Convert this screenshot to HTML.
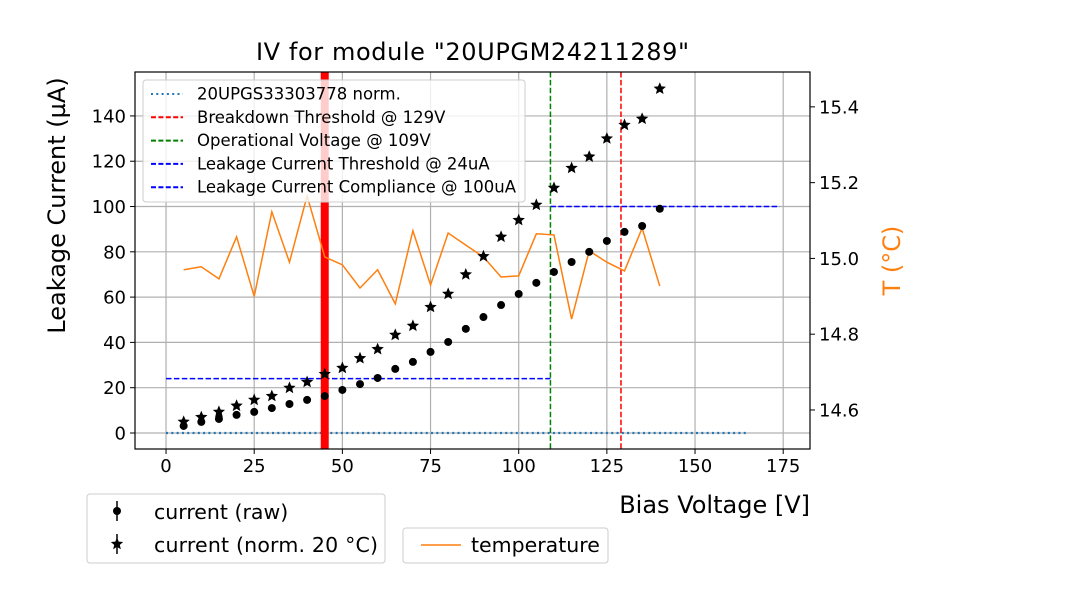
<!DOCTYPE html>
<html><head><meta charset="utf-8"><style>
body{margin:0;background:#fff}
svg{display:block;font-family:"DejaVu Sans","Liberation Sans",sans-serif}
</style></head><body>
<svg id="chart" width="1080" height="600" viewBox="0 0 1080 600"></svg>
<script>
const voltages=[5,10,15,20,25,30,35,40,45,50,55,60,65,70,75,80,85,90,95,100,105,110,115,120,125,130,135,140];
const currentRaw=[3.1,4.9,6.2,8,9.3,11,12.8,14.6,16.3,19,21.6,24.3,28.3,31.4,35.8,40.2,46,51.2,56.5,61.4,66.3,71.1,75.5,80,84.8,88.8,91.4,99];
const currentNorm=[4.9,7,9.3,12,14.6,16.3,19.9,22.5,26,28.7,33,37,43.3,47.3,55.6,61.4,70,78,86.6,94,100.7,108.2,117,122,130,136,138.7,152];
const temperature=[14.97,14.978,14.946,15.057,14.90,15.123,14.99,15.165,15.004,14.983,14.922,14.97,14.88,15.073,14.93,15.067,15.035,15.004,14.951,14.954,15.065,15.062,14.84,15.02,14.99,14.967,15.08,14.927];
const xTicks=[0,25,50,75,100,125,150,175];
const yTicks=[0,20,40,60,80,100,120,140];
const tTicks=[14.6,14.8,15.0,15.2,15.4];
const breakdownV=129, operationalV=109, leakThr=24, leakComp=100, markerV=45;

const L=135,R=810,T=72,B=449;
const X0=-8.8,X1=182.6,Y0=-7.07,Y1=159.4,T0=14.497,T1=15.492;
const sx=v=>L+(v-X0)/(X1-X0)*(R-L);
const sy=v=>B-(v-Y0)/(Y1-Y0)*(B-T);
const st=v=>B-(v-T0)/(T1-T0)*(B-T);
const svg=document.getElementById('chart');
const NS='http://www.w3.org/2000/svg';
function mk(tag,attrs,parent){const e=document.createElementNS(NS,tag);for(const k in attrs)e.setAttribute(k,attrs[k]);(parent||svg).appendChild(e);return e;}
function txt(s,attrs){const e=mk('text',attrs);e.textContent=s;return e;}

xTicks.forEach(v=>{const l=mk('line',{x1:sx(v),x2:sx(v),y1:T,y2:B,stroke:'#b0b0b0','stroke-width':1.2});

});
yTicks.forEach(v=>{const l=mk('line',{x1:L,x2:R,y1:sy(v),y2:sy(v),stroke:'#b0b0b0','stroke-width':1.2});

});

let e;
e=mk('line',{x1:sx(0),x2:sx(165),y1:sy(0),y2:sy(0),stroke:'#1f77b4','stroke-width':2.2,'stroke-dasharray':'2,3.3'});


e=mk('line',{x1:sx(0),x2:sx(operationalV),y1:sy(leakThr),y2:sy(leakThr),stroke:'#0000ff','stroke-width':1.5,'stroke-dasharray':'5.5,2.4'});


e=mk('line',{x1:sx(operationalV),x2:sx(174),y1:sy(leakComp),y2:sy(leakComp),stroke:'#0000ff','stroke-width':1.5,'stroke-dasharray':'5.5,2.4'});


e=mk('line',{x1:sx(operationalV),x2:sx(operationalV),y1:T,y2:B,stroke:'#008000','stroke-width':1.5,'stroke-dasharray':'5.5,2.4'});


e=mk('line',{x1:sx(breakdownV),x2:sx(breakdownV),y1:T,y2:B,stroke:'#ff0000','stroke-width':1.5,'stroke-dasharray':'5.5,2.4'});


e=mk('rect',{x:sx(markerV)-4,y:T,width:8,height:B-T,fill:'#ff0000'});



e=mk('polyline',{points:voltages.map((v,i)=>sx(v)+','+st(temperature[i])).join(' '),fill:'none',stroke:'#ff7f0e','stroke-width':1.5});



function star(cx,cy,r){let p=[];for(let i=0;i<10;i++){const a=-Math.PI/2+i*Math.PI/5;const rr=i%2?r*0.45:r;p.push((cx+rr*Math.cos(a)).toFixed(1)+','+(cy+rr*Math.sin(a)).toFixed(1));}return p.join(' ');}
voltages.forEach((v,i)=>{
 const c=mk('circle',{cx:sx(v),cy:sy(currentRaw[i]),r:4,fill:'#000'});
 
 
 const s=mk('polygon',{points:star(sx(v),sy(currentNorm[i]),6.5),fill:'#000'});
 
 
});

e=mk('rect',{x:L,y:T,width:R-L,height:B-T,fill:'none',stroke:'#000','stroke-width':1.2});



xTicks.forEach(v=>{mk('line',{x1:sx(v),x2:sx(v),y1:B,y2:B+5,stroke:'#000'});
 e=txt(v,{x:sx(v),y:B+23,'text-anchor':'middle','font-size':18});
 
 });
yTicks.forEach(v=>{mk('line',{x1:L-5,x2:L,y1:sy(v),y2:sy(v),stroke:'#000'});
 e=txt(v,{x:L-9,y:sy(v)+6.5,'text-anchor':'end','font-size':18});
 
 });
tTicks.forEach(v=>{mk('line',{x1:R,x2:R+5,y1:st(v),y2:st(v),stroke:'#000'});
 e=txt(v.toFixed(1),{x:R+9,y:st(v)+6.5,'font-size':18});
 
 });

e=txt('IV for module "20UPGM24211289"',{x:(L+R)/2,y:60,'text-anchor':'middle','font-size':24,textLength:433});


e=txt('Bias Voltage [V]',{x:R,y:513,'text-anchor':'end','font-size':24});


e=txt('Leakage Current (µA)',{x:0,y:0,'text-anchor':'middle','font-size':24,transform:'translate(65,'+((T+B)/2-55)+') rotate(-90)'});


e=txt('T (°C)',{x:0,y:0,'text-anchor':'middle','font-size':24,fill:'#ff7f0e',transform:'translate(900,'+((T+B)/2)+') rotate(-90)'});



const lg=mk('g',{});


mk('rect',{x:143,y:80,width:382,height:122,rx:3,fill:'#fff','fill-opacity':0.8,stroke:'#ccc'},lg);
const entries=[['20UPGS33303778 norm.','#1f77b4','2,3.3'],['Breakdown Threshold @ 129V','#ff0000','5,2.4'],['Operational Voltage @ 109V','#008000','5,2.4'],['Leakage Current Threshold @ 24uA','#0000ff','5,2.4'],['Leakage Current Compliance @ 100uA','#0000ff','5,2.4']];
entries.forEach((en,i)=>{const y=94+i*23.3;
 mk('line',{x1:151,x2:183,y1:y,y2:y,stroke:en[1],'stroke-width':2,'stroke-dasharray':en[2]},lg);
 const t=mk('text',{x:197,y:y+5.5,'font-size':16.5},lg);t.textContent=en[0];
 
 });

const lb=mk('g',{});


mk('rect',{x:87,y:494,width:298,height:69,rx:3,fill:'#fff',stroke:'#ccc'},lb);
mk('line',{x1:117,x2:117,y1:501,y2:521,stroke:'#000','stroke-width':1.5},lb);
mk('circle',{cx:117,cy:511,r:4,fill:'#000'},lb);
mk('line',{x1:117,x2:117,y1:534,y2:554,stroke:'#000','stroke-width':1.5},lb);
mk('polygon',{points:star(117,544,6.5),fill:'#000'},lb);
let t1=mk('text',{x:154,y:519,'font-size':20.5},lb);t1.textContent='current (raw)';


let t2=mk('text',{x:154,y:552,'font-size':20.5,textLength:224},lb);t2.textContent='current (norm. 20 °C)';



const lt=mk('g',{});


mk('rect',{x:403,y:528,width:205,height:35,rx:3,fill:'#fff',stroke:'#ccc'},lt);
mk('line',{x1:421,x2:461,y1:545,y2:545,stroke:'#ff7f0e','stroke-width':1.5},lt);
let t3=mk('text',{x:471,y:552,'font-size':20.5},lt);t3.textContent='temperature';


</script>
</body></html>
